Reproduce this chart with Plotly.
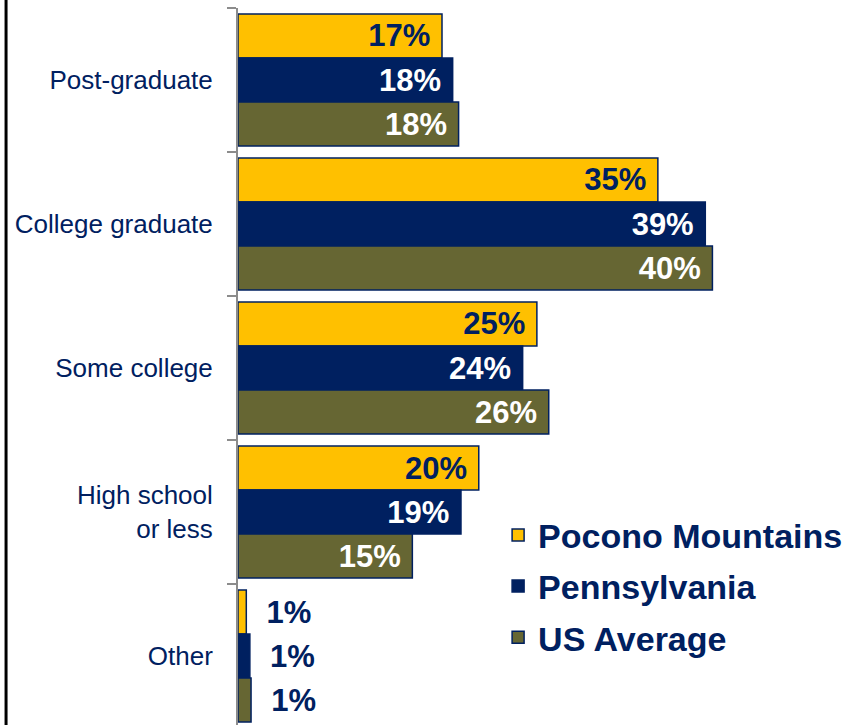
import plotly.graph_objects as go

categories = ["Post-graduate", "College graduate", "Some college", "High school<br>or less", "Other"]
series_names = ["Pocono Mountains", "Pennsylvania", "US Average"]
pocono = [17.2, 35.4, 25.2, 20.3, 0.7]
pennsylvania = [18.1, 39.4, 24.0, 18.8, 1.0]
us_average = [18.6, 40.0, 26.2, 14.7, 1.1]
pocono_labels = ["17%", "35%", "25%", "20%", "1%"]
pennsylvania_labels = ["18%", "39%", "24%", "19%", "1%"]
us_average_labels = ["18%", "40%", "26%", "15%", "1%"]

NAVY = "#002060"
colors = ["#FFC000", NAVY, "#666633"]
inside_text = [NAVY, "white", "white"]
FONT = "Liberation Sans, Arial, sans-serif"
NB = "\u00a0"

fig = go.Figure()
for name, vals, labels, col, tcol in zip(
    series_names,
    [pocono, pennsylvania, us_average],
    [pocono_labels, pennsylvania_labels, us_average_labels],
    colors,
    inside_text,
):
    outside = [v < 3 for v in vals]
    # small non-breaking pads keep labels off the bar ends, like the original
    texts = [NB + NB + t if o else t + NB for t, o in zip(labels, outside)]
    fig.add_trace(
        go.Bar(
            y=categories,
            x=vals,
            name=name,
            orientation="h",
            legendgroup=name,
            marker=dict(color=col, line=dict(color=NAVY, width=1.5)),
            text=texts,
            textposition=["outside" if o else "inside" for o in outside],
            insidetextanchor="end",
            textfont=dict(
                family=FONT,
                size=31,
                color=[NAVY if o else tcol for o in outside],
                weight="bold",
            ),
            constraintext="none",
            cliponaxis=False,
            hoverinfo="skip",
        )
    )

fig.update_layout(
    width=850,
    height=725,
    margin=dict(l=238, r=0, t=8, b=0, autoexpand=False),
    paper_bgcolor="white",
    plot_bgcolor="white",
    barmode="group",
    bargap=0.083,
    bargroupgap=0,
    font=dict(family=FONT, color=NAVY),
    legend=dict(
        x=0.425,
        y=0.305,
        xanchor="left",
        yanchor="top",
        font=dict(size=34, color=NAVY, weight="bold"),
        tracegroupgap=4,
        bgcolor="rgba(0,0,0,0)",
    ),
    xaxis=dict(range=[0, 51.6], visible=False),
    yaxis=dict(
        range=[4.479, -0.5],
        automargin=False,
        showline=True,
        linecolor="#8c8c8c",
        linewidth=2,
        ticks="outside",
        tickson="boundaries",
        ticklen=9,
        tickwidth=2,
        tickcolor="#8c8c8c",
        tickfont=dict(size=26, color=NAVY),
        ticklabelstandoff=18,
        showgrid=False,
    ),
    shapes=[
        dict(
            type="line",
            xref="paper",
            yref="paper",
            x0=-0.379,
            x1=-0.379,
            y0=0,
            y1=1.02,
            line=dict(color="black", width=3),
        )
    ],
)

fig.write_html(
    "out.html",
    config={"displayModeBar": False},
    post_script="document.body.style.margin = '0';",
)
